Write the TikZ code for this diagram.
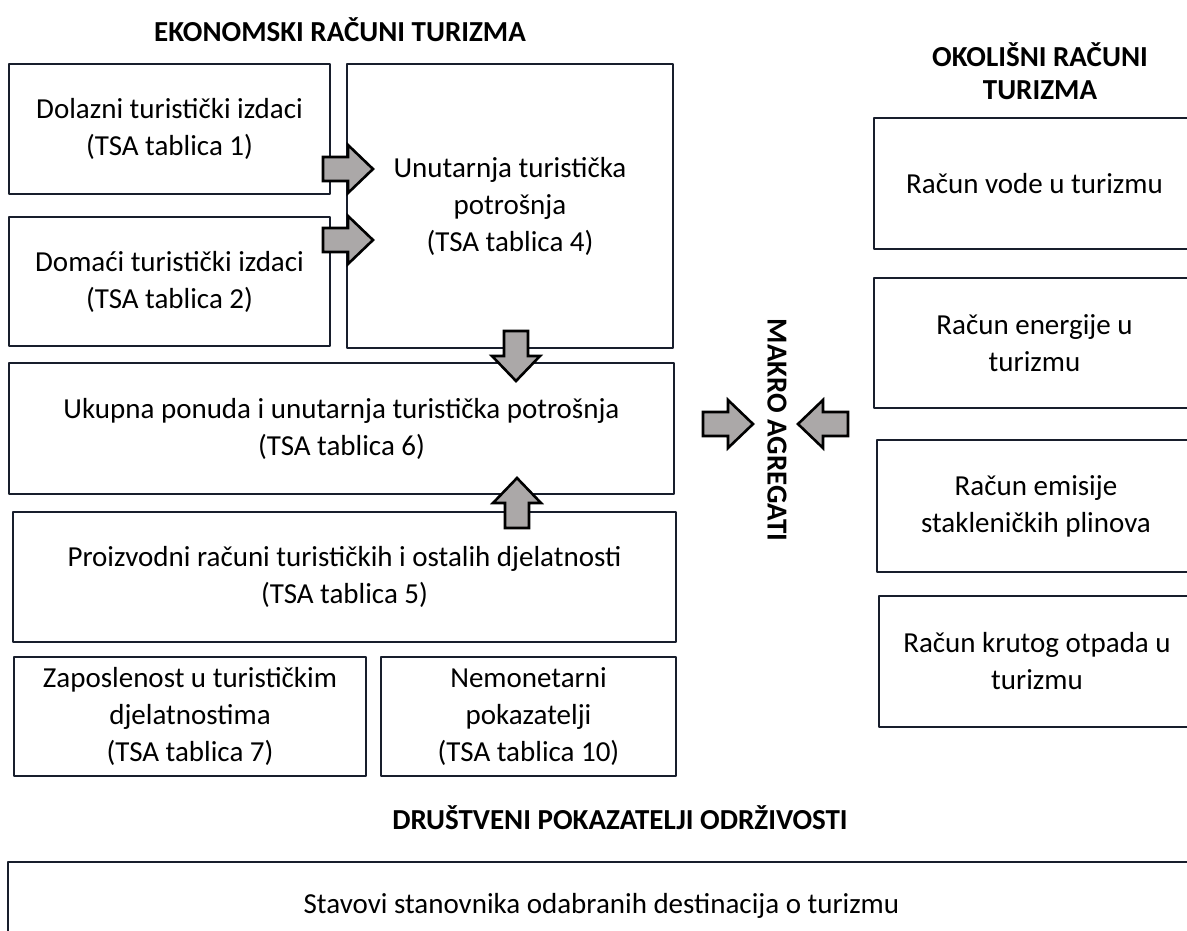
\documentclass[tikz,border=0pt]{standalone}
\usepackage{fontspec}
\setmainfont{Carlito}
\definecolor{boxline}{RGB}{24,30,44}
\definecolor{arrowgray}{RGB}{171,168,168}
\tikzset{
  acct/.style={draw=boxline, line width=2.6pt, align=center, inner sep=0pt, font=\fontsize{29}{37}\selectfont},
  heading/.style={font=\fontsize{29}{33}\selectfont\bfseries, align=center},
  blkarrow/.pic={\draw[fill=arrowgray, draw=black, line width=2.6pt, line join=miter] (-25,-12)--(0,-12)--(0,-24)--(25,0)--(0,24)--(0,12)--(-25,12)--cycle;}
}
\begin{document}
\begin{tikzpicture}[x=1pt, y=-1pt, line join=round]
\clip (0,0) rectangle (1187,930);
\useasboundingbox (0,0) rectangle (1187,930);
% ekonomski racuni
\node[heading] (ekotitle) at (340,30) {EKONOMSKI RAČUNI TURIZMA};
\node[acct, minimum width=321, minimum height=130] (dolazni) at (169.5,129) {Dolazni turistički izdaci\\(TSA tablica 1)};
\node[acct, minimum width=321, minimum height=129] (domaci) at (169.5,281.5) {Domaći turistički izdaci\\(TSA tablica 2)};
\node[acct, minimum width=326, minimum height=284] (unutarnja) at (510,206) {Unutarnja turistička\\potrošnja\\(TSA tablica 4)};
\node[acct, minimum width=665, minimum height=131] (ponuda) at (341.5,428.5) {Ukupna ponuda i unutarnja turistička potrošnja\\(TSA tablica 6)};
\node[acct, minimum width=663, minimum height=130] (proizvodni) at (344.5,577) {Proizvodni računi turističkih i ostalih djelatnosti\\(TSA tablica 5)};
\node[acct, minimum width=352, minimum height=119] (zaposlenost) at (190,716.5) {Zaposlenost u turističkim\\djelatnostima\\(TSA tablica 7)};
\node[acct, minimum width=295, minimum height=119] (nemonetarni) at (528.5,716.5) {Nemonetarni\\pokazatelji\\(TSA tablica 10)};
% okolisni racuni
\node[heading] (okotitle) at (1040,71) {OKOLIŠNI RAČUNI\\TURIZMA};
\node[acct, minimum width=321, minimum height=131] (voda) at (1034.5,183.5) {Račun vode u turizmu};
\node[acct, minimum width=321, minimum height=130] (energija) at (1034.5,343) {Račun energije u\\turizmu};
\node[acct, minimum width=318, minimum height=132] (emisija) at (1036,506) {Račun emisije\\stakleničkih plinova};
\node[acct, minimum width=316, minimum height=131] (otpad) at (1037,661.5) {Račun krutog otpada u\\turizmu};
\node[heading, rotate=-90] (makro) at (777,430) {MAKRO AGREGATI};
% drustveni pokazatelji
\node[heading] (drustvotitle) at (620,818) {DRUŠTVENI POKAZATELJI ODRŽIVOSTI};
\node[acct, minimum width=1187, minimum height=88] (stavovi) at (601.5,906) {Stavovi stanovnika odabranih destinacija o turizmu};
% strelice
\pic at (348,169) {blkarrow};
\pic at (348,240) {blkarrow};
\pic[rotate=-90] at (516,356) {blkarrow};
\pic[rotate=90] at (517,503) {blkarrow};
\pic at (728,424) {blkarrow};
\pic[rotate=180] at (823,424) {blkarrow};
\end{tikzpicture}
\end{document}
